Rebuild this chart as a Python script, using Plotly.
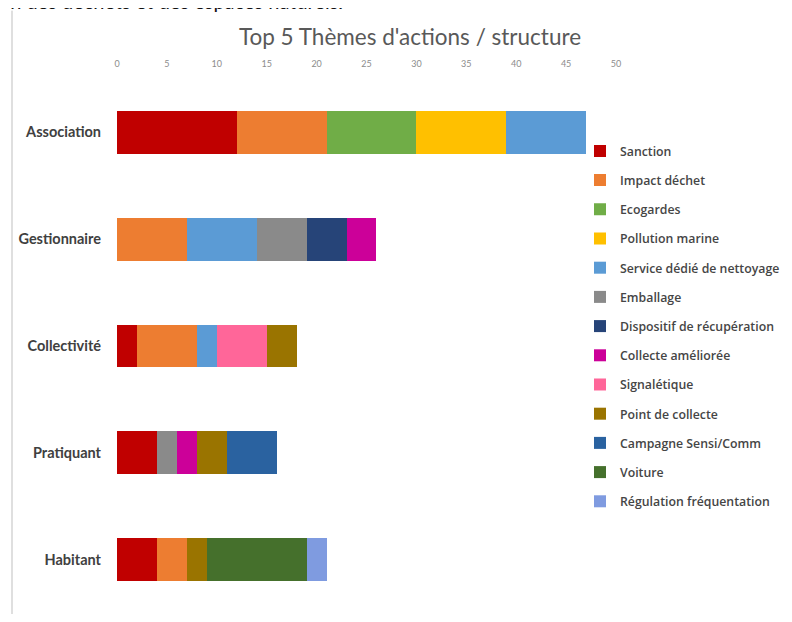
import plotly.graph_objects as go

structures = ["Association", "Gestionnaire", "Collectivité", "Pratiquant", "Habitant"]
themes = ["Sanction", "Impact déchet", "Ecogardes", "Pollution marine",
          "Service dédié de nettoyage", "Emballage", "Dispositif de récupération",
          "Collecte améliorée", "Signalétique", "Point de collecte",
          "Campagne Sensi/Comm", "Voiture", "Régulation fréquentation"]

# values per theme, in order of structures
sanction = [12, 0, 2, 4, 4]
impact_dechet = [9, 7, 6, 0, 3]
ecogardes = [9, 0, 0, 0, 0]
pollution_marine = [9, 0, 0, 0, 0]
service_dedie = [8, 7, 2, 0, 0]
emballage = [0, 5, 0, 2, 0]
dispositif = [0, 4, 0, 0, 0]
collecte_amelioree = [0, 3, 0, 2, 0]
signaletique = [0, 0, 5, 0, 0]
point_collecte = [0, 0, 3, 3, 2]
campagne = [0, 0, 0, 5, 0]
voiture = [0, 0, 0, 0, 10]
regulation = [0, 0, 0, 0, 2]

series = [sanction, impact_dechet, ecogardes, pollution_marine, service_dedie,
          emballage, dispositif, collecte_amelioree, signaletique, point_collecte,
          campagne, voiture, regulation]

colors = ["#C00000", "#ED7D31", "#70AD47", "#FFC000", "#5B9BD5", "#8A8A8A",
          "#264478", "#CC0099", "#FF6699", "#9A7400", "#2A62A0", "#45702C",
          "#7F9BE0"]

tick_vals = [0, 5, 10, 15, 20, 25, 30, 35, 40, 45, 50]

FONT = "Lato"

# page offset (browser body margin) and plot area in figure pixels
OFF = 8
W, H = 784, 606
L, T = 109, 70.5
PW, PH = 499, 535
R = W - L - PW
B = H - T - PH


def px(page_x):
    return (page_x - OFF - L) / PW


def py(page_y):
    return 1 - (page_y - OFF - T) / PH


fig = go.Figure()
for name, vals, col in zip(themes, series, colors):
    fig.add_trace(go.Bar(
        y=structures, x=vals, name=name, orientation="h",
        marker=dict(color=col, line=dict(width=0)),
        legendgroup=name,
    ))

fig.update_layout(
    width=W, height=H,
    barmode="stack",
    bargap=0.6,
    plot_bgcolor="white", paper_bgcolor="white",
    margin=dict(l=L, r=R, t=T, b=B, autoexpand=False),
    font=dict(family=FONT, color="#595959"),
    title=dict(text="Top 5 Thèmes d'actions / structure",
               font=dict(family=FONT, size=22.5, color="#595959"),
               x=(410 - OFF) / W, xanchor="center",
               y=1 - (37 - OFF) / H, yanchor="middle"),
    xaxis=dict(range=[0, 50], side="top", tickvals=tick_vals,
               showgrid=False, zeroline=False, showline=False, ticks="",
               tickfont=dict(family=FONT, size=9, color="#8C8C8C"),
               ticklabelstandoff=9),
    yaxis=dict(categoryorder="array", categoryarray=structures,
               autorange="reversed", showgrid=False, zeroline=False,
               showline=False, ticks="",
               tickfont=dict(family=FONT, size=14.5, color="#404040",
                             weight="bold"),
               ticklabelstandoff=15),
    legend=dict(x=px(580), xanchor="left", y=py(136), yanchor="top",
                traceorder="grouped", tracegroupgap=10.2,
                font=dict(family="Open Sans", size=12.3, color="#454545",
                          weight=600),
                bgcolor="rgba(0,0,0,0)"),
    showlegend=True,
)

# page text partially visible above the chart and the left frame line
fig.add_annotation(text="…ion des déchets et des espaces naturels.",
                   xref="paper", yref="paper",
                   x=px(345), xanchor="right",
                   y=py(0), yanchor="middle",
                   showarrow=False,
                   font=dict(family=FONT, size=20, color="#111111"))
fig.add_shape(type="line", xref="paper", yref="paper",
              x0=px(12), x1=px(12),
              y0=py(10), y1=py(640),
              line=dict(color="#BFBFBF", width=1))

fig.write_html("out.html")
